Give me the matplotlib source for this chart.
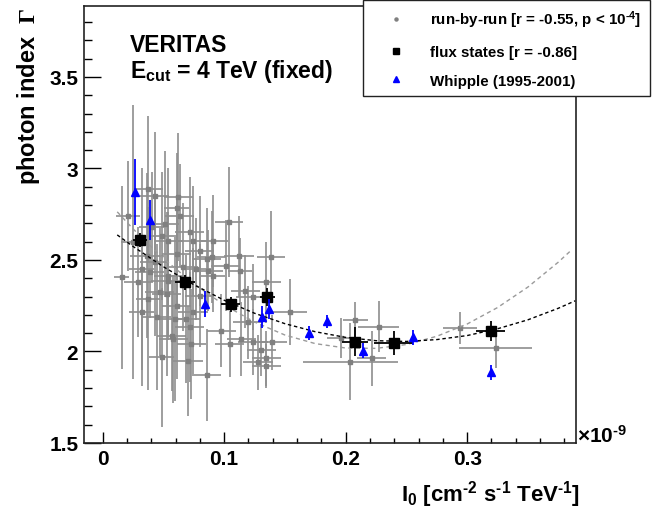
import matplotlib
matplotlib.use("Agg")
import matplotlib.pyplot as plt
from matplotlib.lines import Line2D
from matplotlib.ticker import MultipleLocator

plt.rcParams["font.family"] = "Liberation Sans"
plt.rcParams["font.weight"] = "bold"
plt.rcParams["mathtext.fontset"] = "custom"
plt.rcParams["mathtext.rm"] = "Liberation Sans:bold"
plt.rcParams["mathtext.it"] = "Liberation Sans:bold"
plt.rcParams["mathtext.bf"] = "Liberation Sans:bold"
plt.rcParams["mathtext.sf"] = "Liberation Serif"

# ---- run-by-run points (I0 in 1e-9 cm^-2 s^-1 TeV^-1, photon index) ----
run_x = [0.0156, 0.0210, 0.0251, 0.0320, 0.0375, 0.0430, 0.0403, 0.0485, 0.0362, 0.0471,
         0.0375, 0.0293, 0.0320, 0.0389, 0.0539, 0.0485, 0.0567, 0.0594, 0.0621, 0.0608,
         0.0635, 0.0717, 0.0863, 0.0703, 0.0868, 0.0909, 0.1013, 0.1040, 0.1122, 0.1128,
         0.1175, 0.1237, 0.1348, 0.1383, 0.1539, 0.0978, 0.1046, 0.1142, 0.1348, 0.1279,
         0.1306, 0.1397, 0.1348, 0.0539, 0.0800, 0.0909, 0.0855, 0.1196, 0.1237, 0.0580,
         0.0731, 0.0717, 0.0684, 0.0800, 0.0744, 0.0608, 0.0526, 0.0444, 0.0430, 0.0539,
         0.0608, 0.0662, 0.0772, 0.0896, 0.0740, 0.0512, 0.2081, 0.2273, 0.1964, 0.2038,
         0.2215, 0.2942, 0.3237]
run_y = [2.405, 2.739, 2.597, 2.214, 2.888, 2.848, 2.679, 2.633, 2.524, 2.323,
         2.287, 2.378, 2.451, 2.433, 2.387, 1.968, 2.086, 2.178, 2.843, 2.783,
         2.742, 2.651, 1.872, 1.950, 2.442, 2.414, 2.469, 2.706, 2.520, 2.442,
         2.329, 2.296, 2.378, 2.518, 2.214, 2.114, 2.041, 2.068, 1.963, 1.941,
         2.008, 2.050, 1.919, 2.605, 2.551, 2.605, 2.505, 2.160, 2.050, 2.068,
         2.041, 2.132, 2.178, 2.305, 2.214, 2.250, 2.314, 2.187, 2.487, 2.414,
         2.533, 2.460, 2.451, 2.515, 2.605, 2.697, 2.172, 2.136, 2.072, 1.944,
         1.963, 2.128, 2.019]
run_xerr = [0.006, 0.010, 0.010, 0.010, 0.012, 0.012, 0.010, 0.012, 0.014, 0.012,
            0.010, 0.012, 0.010, 0.012, 0.014, 0.010, 0.012, 0.012, 0.012, 0.010,
            0.012, 0.012, 0.011, 0.012, 0.012, 0.010, 0.012, 0.0115, 0.012, 0.010,
            0.012, 0.014, 0.012, 0.0115, 0.014, 0.012, 0.012, 0.012, 0.012, 0.012,
            0.012, 0.012, 0.012, 0.012, 0.012, 0.012, 0.012, 0.012, 0.012, 0.012,
            0.012, 0.012, 0.012, 0.012, 0.012, 0.012, 0.012, 0.012, 0.012, 0.012,
            0.012, 0.012, 0.012, 0.012, 0.012, 0.012, 0.010, 0.017, 0.012, 0.039,
            0.012, 0.014, 0.030]
run_yerr = [0.50, 0.30, 0.75, 0.40, 0.40, 0.35, 0.30, 0.35, 0.45, 0.35,
            0.50, 0.30, 0.55, 0.25, 0.30, 0.38, 0.30, 0.45, 0.35, 0.30,
            0.28, 0.30, 0.25, 0.30, 0.22, 0.20, 0.25, 0.30, 0.22, 0.18,
            0.20, 0.18, 0.22, 0.25, 0.18, 0.20, 0.18, 0.20, 0.15, 0.15,
            0.14, 0.15, 0.12, 0.40, 0.30, 0.25, 0.28, 0.20, 0.18, 0.35,
            0.30, 0.30, 0.35, 0.28, 0.35, 0.40, 0.45, 0.40, 0.40, 0.35,
            0.30, 0.35, 0.28, 0.25, 0.30, 0.40, 0.10, 0.14, 0.11, 0.21,
            0.15, 0.087, 0.11]

# ---- flux states ----
flux_x = [0.0306, 0.0679, 0.1054, 0.1356, 0.2076, 0.2396, 0.3193]
flux_y = [2.609, 2.378, 2.258, 2.296, 2.054, 2.045, 2.112]
flux_xerr = [0.006, 0.008, 0.008, 0.006, 0.011, 0.016, 0.012]
flux_yerr = [0.04, 0.04, 0.04, 0.05, 0.08, 0.065, 0.055]

# ---- Whipple 1995-2001 ----
whip_x = [0.0265, 0.0391, 0.0846, 0.1309, 0.1369, 0.1698, 0.1847, 0.2139, 0.2558, 0.3196]
whip_y = [2.873, 2.720, 2.260, 2.187, 2.231, 2.101, 2.166, 2.004, 2.078, 1.886]
whip_yerr = [0.18, 0.11, 0.07, 0.06, 0.055, 0.04, 0.035, 0.04, 0.04, 0.04]

# ---- fitted curves ----
fit_x = [0.012, 0.025, 0.05, 0.075, 0.1, 0.125, 0.15, 0.175, 0.2, 0.225,
         0.25, 0.275, 0.3, 0.325, 0.35, 0.375, 0.389]
fit_flux_y = [2.637, 2.574, 2.463, 2.365, 2.280, 2.209, 2.152, 2.108, 2.077, 2.059,
              2.055, 2.065, 2.087, 2.124, 2.173, 2.236, 2.277]
fit_run_x = [0.012, 0.025, 0.05, 0.075, 0.1, 0.125, 0.15, 0.175, 0.2, 0.225,
             0.25, 0.275, 0.3, 0.325, 0.35, 0.375, 0.385]
fit_run_y = [2.763, 2.670, 2.508, 2.370, 2.254, 2.161, 2.090, 2.043, 2.019, 2.017,
             2.038, 2.083, 2.150, 2.240, 2.352, 2.488, 2.549]

xticks = [0, 0.1, 0.2, 0.3]
xticklabels = ["0", "0.1", "0.2", "0.3"]
yticks = [1.5, 2, 2.5, 3, 3.5]
yticklabels = ["1.5", "2", "2.5", "3", "3.5"]

HY = "\u2010"  # short hyphen used in the superscripts

W, H = 671, 510
fig = plt.figure(figsize=(W / 100, H / 100), dpi=100)
ax = fig.add_axes([84.3 / W, 1 - 444 / H, (576 - 84.3) / W, (444 - 7.3) / H])

ax.errorbar(run_x, run_y, xerr=run_xerr, yerr=run_yerr, fmt="s", ms=2.2,
            color="#808080", ecolor="#8e8e8e", elinewidth=1.2, capsize=0, zorder=2)
ax.plot(fit_run_x, fit_run_y, color="#9a9a9a", lw=1.0, dashes=(3, 2.5), zorder=3)
ax.plot(fit_x, fit_flux_y, color="black", lw=1.0, dashes=(2.5, 2.0), zorder=3)
ax.errorbar(flux_x, flux_y, xerr=flux_xerr, yerr=flux_yerr, fmt="s", ms=6.8,
            color="black", elinewidth=1.3, capsize=0, zorder=4)
ax.errorbar(whip_x, whip_y, yerr=whip_yerr, fmt="^", ms=5.5, color="blue",
            ecolor="blue", elinewidth=1.3, capsize=0, zorder=5)

ax.set_xlim(-0.0151, 0.3896)
ax.set_ylim(1.5, 3.886)
ax.set_xticks(xticks)
ax.set_xticklabels(xticklabels)
ax.set_yticks(yticks)
ax.set_yticklabels(yticklabels)
ax.xaxis.set_minor_locator(MultipleLocator(0.02))
ax.yaxis.set_minor_locator(MultipleLocator(0.1))
ax.tick_params(axis="y", which="major", direction="in", length=12, width=1.0,
               labelsize=15, pad=4.3, right=False)
ax.tick_params(axis="y", which="minor", direction="in", length=6, width=1.0, right=False)
ax.tick_params(axis="x", which="major", direction="in", length=8.1, width=1.0,
               labelsize=15, pad=4, top=False)
ax.tick_params(axis="x", which="minor", direction="in", length=3.6, width=1.0, top=False)
for s in ax.spines.values():
    s.set_linewidth(1.2)
    s.set_color("#222222")

fig.text(29 / W, 1 - 8 / H, r"photon index  $\mathsf{\Gamma}$", rotation=90,
         ha="center", va="top", fontsize=17, fontweight="bold")
fig.text(580 / W, 1 - 479 / H,
         "I$_0$ [cm$^{" + HY + "2}$ s$^{" + HY + "1}$ TeV$^{" + HY + "1}$]",
         ha="right", va="top", fontsize=16, fontweight="bold")
fig.text(577 / W, 1 - 443 / H, r"$\times$10$^{" + HY + "9}$", ha="left", va="baseline",
         fontsize=15)
fig.text(130 / W, 1 - 51.7 / H, "VERITAS", ha="left", va="baseline", fontsize=16.5)
fig.text(130 / W, 1 - 78 / H, r"E$_{\mathrm{cut}}$ = 4 TeV (fixed)", ha="left",
         va="baseline", fontsize=16.5)

handles = [
    Line2D([], [], ls="none", marker="o", ms=2.2, color="#808080"),
    Line2D([], [], ls="none", marker="s", ms=4.8, color="black"),
    Line2D([], [], ls="none", marker="^", ms=4.8, color="blue"),
]
labels = ["run-by-run [r = -0.55, p < 10$^{" + HY + "4}$]", "flux states [r = -0.86]",
          "Whipple (1995-2001)"]
leg = fig.legend(handles, labels, loc="upper right",
                 bbox_to_anchor=(650 / W, 1 - 1 / H), bbox_transform=fig.transFigure,
                 fontsize=10.9, frameon=True, fancybox=False, framealpha=1,
                 edgecolor="#222222", borderpad=0.56, labelspacing=0.98,
                 handlelength=3.2, handletextpad=0.7, borderaxespad=0)
leg.get_frame().set_linewidth(1.0)

fig.savefig("out.png", dpi=100)
